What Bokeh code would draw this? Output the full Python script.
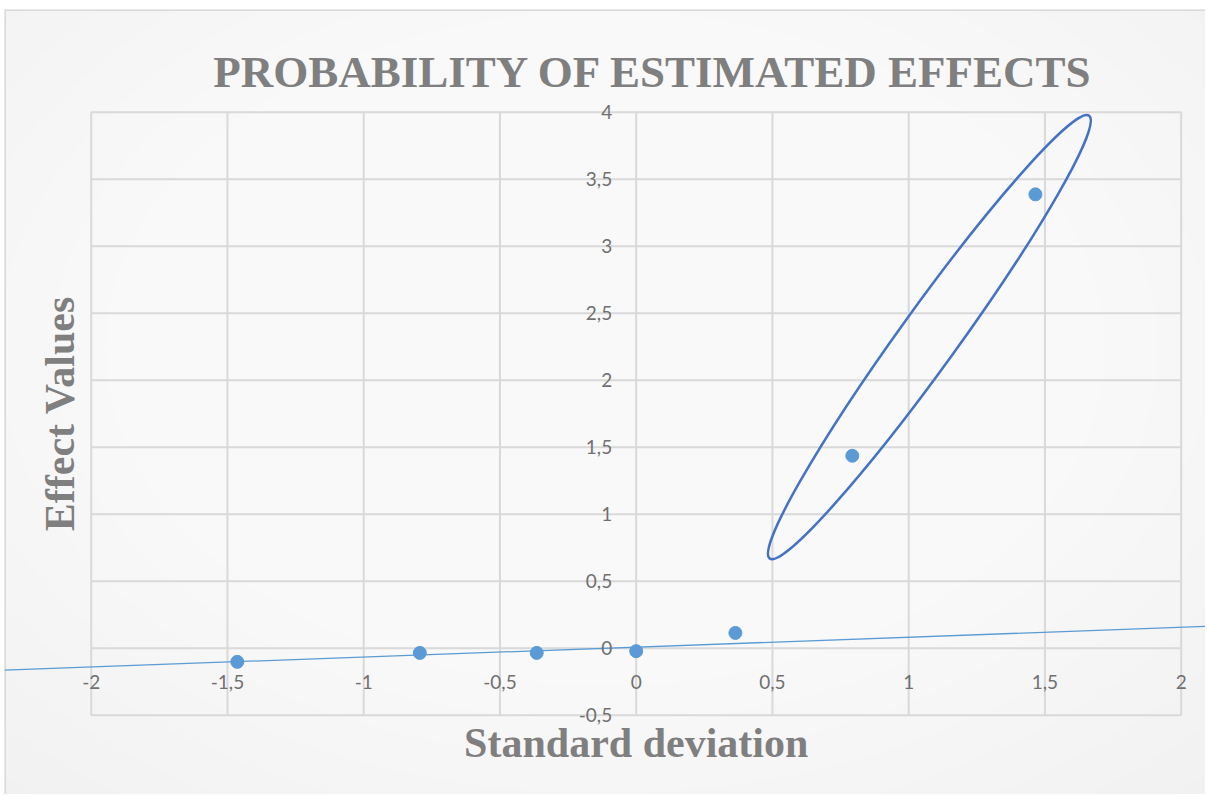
import math
from bokeh.plotting import figure
from bokeh.models import LinearAxis, FixedTicker, CustomJSTickFormatter, Label
from bokeh.embed import file_html
from bokeh.resources import INLINE

# ---- data ----
std_dev = [-1.464, -0.794, -0.365, 0.0, 0.364, 0.793, 1.465]
effects = [-0.102, -0.035, -0.035, -0.022, 0.114, 1.436, 3.387]
x_ticks = [-2, -1.5, -1, -0.5, 0, 0.5, 1, 1.5, 2]
y_ticks = [-0.5, 0, 0.5, 1, 1.5, 2, 2.5, 3, 3.5, 4]
trend_slope = 0.074
trend_intercept = 0.008
highlighted = [5, 6]

title_text = "PROBABILITY OF ESTIMATED EFFECTS"
x_title = "Standard deviation"
y_title = "Effect Values"

# ---- layout ----
W, H = 1205, 794
X_START, X_END = -2.3182, 2.0892
Y_START, Y_END = -1.0918, 4.7664

GRID = "#d9d9d9"
BLUE = "#5b9bd5"
GREY_TXT = "#7f7f7f"
TICK_TXT = "#707070"

p = figure(width=W, height=H, x_range=(X_START, X_END), y_range=(Y_START, Y_END),
           output_backend="svg", toolbar_location=None,
           x_axis_location=None, y_axis_location=None,
           min_border=0, min_border_left=4, min_border_top=9,
           background_fill_color="#efefef", border_fill_color="white",
           outline_line_color=None)
p.xgrid.visible = False
p.ygrid.visible = False

# soft radial background
cx = (X_START + X_END) / 2
cy = (Y_START + Y_END) / 2 + 0.4
n = 16
p.ellipse(x=[cx] * n, y=[cy] * n,
          width=[1700 * (1 - i / n) + 150 for i in range(n)],
          height=[1150 * (1 - i / n) + 100 for i in range(n)],
          width_units="screen", height_units="screen",
          fill_color="white", fill_alpha=0.13, line_color=None)

# chart border (top and left edges)
p.segment(x0=[X_START, X_START], y0=[Y_START, Y_END], x1=[X_START, X_END], y1=[Y_END, Y_END],
          line_color=GRID, line_width=3)

# grid box
p.segment(x0=x_ticks, y0=[y_ticks[0]] * len(x_ticks), x1=x_ticks, y1=[y_ticks[-1]] * len(x_ticks),
          line_color=GRID, line_width=2)
p.segment(x0=[x_ticks[0]] * len(y_ticks), y0=y_ticks, x1=[x_ticks[-1]] * len(y_ticks), y1=y_ticks,
          line_color=GRID, line_width=2)

# trend line across the whole chart
tx = [X_START, X_END]
p.line(x=tx, y=[trend_slope * v + trend_intercept for v in tx], line_color=BLUE, line_width=1.3)

# points
p.scatter(x=std_dev, y=effects, size=13, color=BLUE)

# highlight ellipse around the two largest effects
hx = sum(std_dev[i] for i in highlighted) / len(highlighted) - 0.053
hy = sum(effects[i] for i in highlighted) / len(highlighted) - 0.09
p.ellipse(x=[hx], y=[hy], width=546, height=58, angle=math.radians(54.2),
          width_units="screen", height_units="screen",
          fill_color=None, line_color="#4472c4", line_width=2.5)

fmt = CustomJSTickFormatter(code="return tick.toString().replace('.', ',');")

xaxis = LinearAxis(fixed_location=0, bounds=(x_ticks[0], x_ticks[-1]),
                   ticker=FixedTicker(ticks=x_ticks, minor_ticks=[]), formatter=fmt,
                   axis_line_color=None, major_tick_line_color=None, minor_tick_line_color=None,
                   major_label_standoff=21, major_label_text_font="Lato",
                   major_label_text_font_size="19px", major_label_text_color=TICK_TXT)
p.add_layout(xaxis, "below")

yaxis = LinearAxis(fixed_location=0, bounds=(y_ticks[0], y_ticks[-1]),
                   ticker=FixedTicker(ticks=y_ticks, minor_ticks=[]), formatter=fmt,
                   axis_line_color=None, major_tick_line_color=None, minor_tick_line_color=None,
                   major_label_standoff=18, major_label_text_font="Lato",
                   major_label_text_font_size="19px", major_label_text_color=TICK_TXT)
p.add_layout(yaxis, "left")

p.add_layout(Label(x=0.0635, y=4.300, text=title_text, text_font="Liberation Serif",
                   text_font_style="bold", text_font_size="45px", text_color=GREY_TXT,
                   text_align="center", text_baseline="alphabetic"))
p.add_layout(Label(x=0.0, y=-0.706, text=x_title, text_font="Liberation Serif",
                   text_font_style="bold", text_font_size="42px", text_color=GREY_TXT,
                   text_align="center", text_baseline="alphabetic"))
p.add_layout(Label(x=-2.1127, y=1.751, text=y_title, angle=math.pi / 2, text_font="Liberation Serif",
                   text_font_style="bold", text_font_size="42px", text_color=GREY_TXT,
                   text_align="center", text_baseline="alphabetic"))

open("out.html", "w").write(file_html(p, INLINE))
